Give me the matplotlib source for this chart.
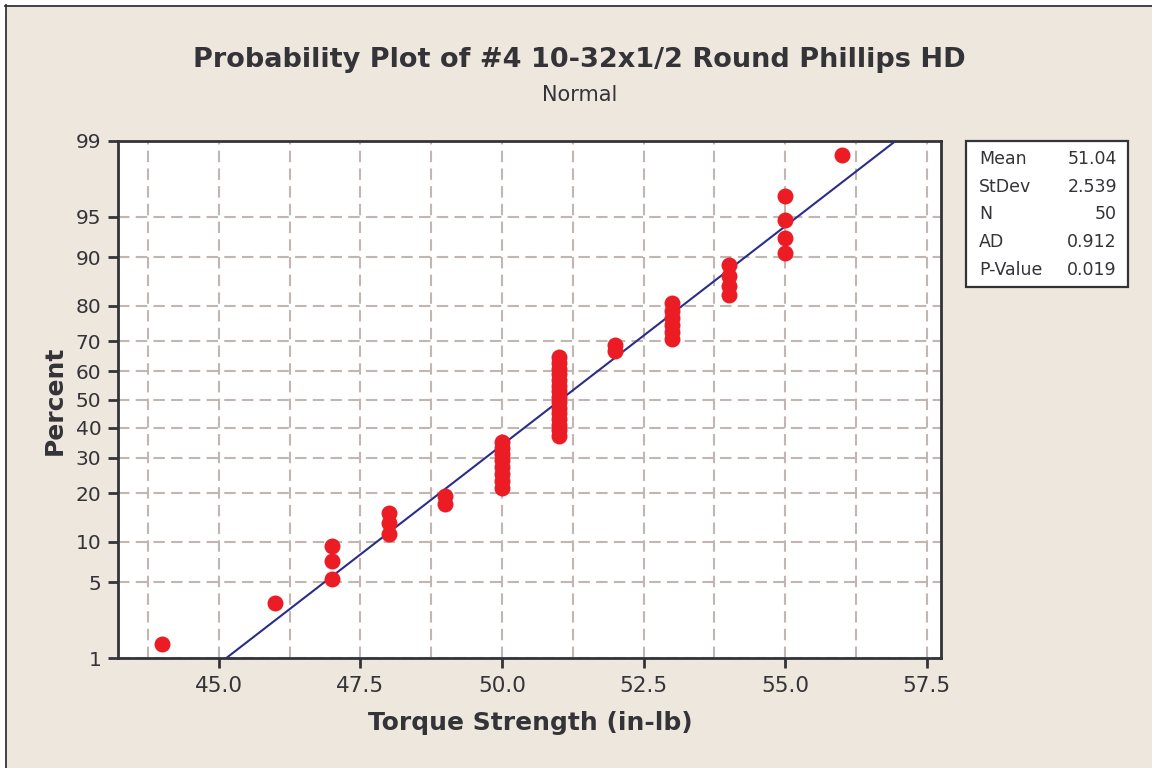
import math
import numpy as np
import matplotlib
matplotlib.use("Agg")
import matplotlib.pyplot as plt
from matplotlib.patches import Rectangle
from matplotlib.lines import Line2D

# ---------------- data ----------------
torque_values = [44,
                 46,
                 47, 47, 47,
                 48, 48, 48,
                 49, 49,
                 50, 50, 50, 50, 50, 50, 50, 50,
                 51, 51, 51, 51, 51, 51, 51, 51, 51, 51, 51, 51, 51, 51, 51,
                 52, 52,
                 53, 53, 53, 53, 53, 53,
                 54, 54, 54, 54,
                 55, 55, 55, 55,
                 56]
percent_ticks = [1, 5, 10, 20, 30, 40, 50, 60, 70, 80, 90, 95, 99]
x_ticks = [45.0, 47.5, 50.0, 52.5, 55.0, 57.5]
stats_labels = ["Mean", "StDev", "N", "AD", "P-Value"]
stats_values = ["51.04", "2.539", "50", "0.912", "0.019"]
title = "Probability Plot of #4 10-32x1/2 Round Phillips HD"
subtitle = "Normal"
xlabel = "Torque Strength (in-lb)"
ylabel = "Percent"

# ---------------- normal helpers ----------------
def norm_ppf(p):
    p = np.asarray(p, dtype=float)
    p = np.clip(p, 1e-12, 1 - 1e-12)
    a = [-3.969683028665376e+01, 2.209460984245205e+02, -2.759285104469687e+02,
         1.383577518672690e+02, -3.066479806614716e+01, 2.506628277459239e+00]
    b = [-5.447609879822406e+01, 1.615858368580409e+02, -1.556989798598866e+02,
         6.680131188771972e+01, -1.328068155288572e+01]
    c = [-7.784894002430293e-03, -3.223964580411365e-01, -2.400758277161838e+00,
         -2.549732539343734e+00, 4.374664141464968e+00, 2.938163982698783e+00]
    d = [7.784695709041462e-03, 3.224671290700398e-01, 2.445134137142996e+00,
         3.754408661907416e+00]
    plow, phigh = 0.02425, 1 - 0.02425
    out = np.empty_like(p)
    lo = p < plow
    hi = p > phigh
    mid = ~(lo | hi)
    q = np.sqrt(-2 * np.log(p[lo]))
    out[lo] = (((((c[0]*q+c[1])*q+c[2])*q+c[3])*q+c[4])*q+c[5]) / ((((d[0]*q+d[1])*q+d[2])*q+d[3])*q+1)
    q = np.sqrt(-2 * np.log(1 - p[hi]))
    out[hi] = -(((((c[0]*q+c[1])*q+c[2])*q+c[3])*q+c[4])*q+c[5]) / ((((d[0]*q+d[1])*q+d[2])*q+d[3])*q+1)
    q = p[mid] - 0.5
    r = q * q
    out[mid] = (((((a[0]*r+a[1])*r+a[2])*r+a[3])*r+a[4])*r+a[5])*q / (((((b[0]*r+b[1])*r+b[2])*r+b[3])*r+b[4])*r+1)
    return out

_erf = np.vectorize(math.erf)

def fwd(pct):
    return norm_ppf(np.asarray(pct, dtype=float) / 100.0)

def inv(z):
    z = np.asarray(z, dtype=float)
    return 50.0 * (1 + _erf(z / math.sqrt(2)))

# ---------------- computations ----------------
vals = np.sort(np.array(torque_values, dtype=float))
n = len(vals)
ranks = np.arange(1, n + 1)
pct = (ranks - 0.3) / (n + 0.4) * 100
mean = vals.mean()
sd = vals.std(ddof=1)

# ---------------- figure ----------------
BG = "#EEE7DE"
TXT = "#333338"
GRID = "#C2B6B2"
fig = plt.figure(figsize=(11.52, 7.68), dpi=100)
fig.patch.set_facecolor("white")

# beige panel inside the outer frame (top and left edges visible)
fig.patches.append(Rectangle((5.5/1152, 0), 1, 1 - 5.5/768, transform=fig.transFigure,
                             facecolor=BG, edgecolor="none", zorder=-10))
fig.lines.append(Line2D([5/1152, 1], [1 - 5.5/768, 1 - 5.5/768], transform=fig.transFigure,
                        color=TXT, lw=1.3, zorder=-5))
fig.lines.append(Line2D([5.5/1152, 5.5/1152], [0, 1 - 5/768], transform=fig.transFigure,
                        color=TXT, lw=1.3, zorder=-5))

ax = fig.add_axes([118/1152, 1 - 658/768, (941 - 118)/1152, (658 - 141)/768])
ax.set_facecolor("white")
ax.set_yscale("function", functions=(fwd, inv))
ax.set_ylim(1, 99)
ax.set_xlim(43.22, 57.75)

ax.set_xticks(x_ticks)
ax.set_xticklabels([f"{v:.1f}" for v in x_ticks])
ax.set_yticks(percent_ticks)
ax.set_yticklabels([str(v) for v in percent_ticks])
ax.yaxis.set_minor_locator(matplotlib.ticker.NullLocator())
ax.xaxis.set_minor_locator(matplotlib.ticker.NullLocator())

# grid: vertical every 1.25, horizontal at percent ticks
for gx in np.arange(43.75, 57.6, 1.25):
    ax.axvline(gx, color=GRID, lw=1.5, ls=(0, (5.5, 3)), zorder=1)
for gy in percent_ticks:
    ax.axhline(gy, color=GRID, lw=1.5, ls=(0, (5.5, 3)), zorder=1)

# fitted line
p_end = np.array([0.3, 99.7])
ax.plot(mean + sd * fwd(p_end), p_end, color="#2B2D8A", lw=1.5, zorder=3)

# points
ax.plot(vals, pct, "o", color="#EC1C24", markersize=11.5, markeredgewidth=0, zorder=4)

for s in ax.spines.values():
    s.set_color(TXT)
    s.set_linewidth(2)
ax.tick_params(axis="both", direction="out", length=7, width=2, color=TXT,
               labelcolor=TXT, labelsize=14.5, pad=5)
ax.tick_params(axis="x", labelsize=15.5, pad=6)

fig.text(0.503, 1 - 60/768, title, ha="center", va="center", fontsize=19.5,
         fontweight="bold", color=TXT)
fig.text(0.503, 1 - 95/768, subtitle, ha="center", va="center", fontsize=15, color=TXT)
fig.text(530/1152, 1 - 723/768, xlabel, ha="center", va="center", fontsize=18,
         fontweight="bold", color=TXT)
fig.text(55/1152, 1 - 400/768, ylabel, ha="center", va="center", rotation=90,
         fontsize=18, fontweight="bold", color=TXT)

# stats box
fig.patches.append(Rectangle((966/1152, 1 - 287/768), (1128 - 966)/1152, (287 - 141)/768,
                             transform=fig.transFigure, facecolor="white",
                             edgecolor=TXT, lw=1.6, zorder=1))
row_y = [159, 187, 214, 242, 270]
for lab, val, yy in zip(stats_labels, stats_values, row_y):
    fig.text(979/1152, 1 - yy/768, lab, ha="left", va="center", fontsize=12.5, color=TXT, zorder=2)
    fig.text(1117/1152, 1 - yy/768, val, ha="right", va="center", fontsize=12.5, color=TXT, zorder=2)

fig.savefig("out.png", dpi=100, facecolor="white")
